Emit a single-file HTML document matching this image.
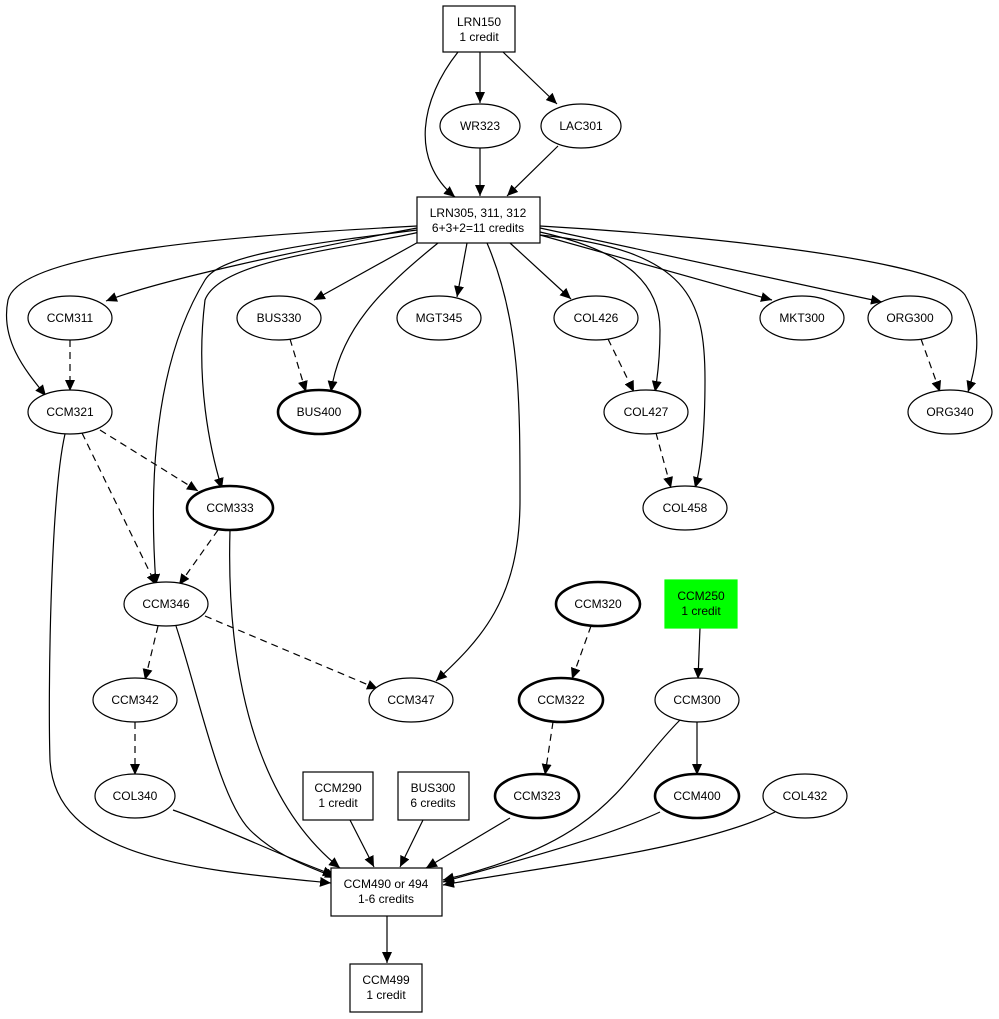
<!DOCTYPE html>
<html><head><meta charset="utf-8"><style>
html,body{margin:0;padding:0;background:#fff;}
svg{display:block;}
text{font-family:"Liberation Sans",Arial,sans-serif;font-size:12px;text-anchor:middle;fill:#000;}
</style></head><body>
<svg width="999" height="1019" viewBox="0 0 999 1019" xmlns="http://www.w3.org/2000/svg">
<defs>
<marker id="a" markerUnits="userSpaceOnUse" markerWidth="12" markerHeight="10" refX="11" refY="5" orient="auto">
<path d="M0,0 L11,5 L0,10 Z" fill="#000"/>
</marker>
</defs>
<g fill="none" stroke="#000" stroke-width="1.2" marker-end="url(#a)">
<path d="M480,52 L480,103"/>
<path d="M503,52 L557,104"/>
<path d="M458,52 C420,100 410,160 455,197"/>
<path d="M480,148 L480,196"/>
<path d="M558,146 L507,196"/>
<path d="M417,228 C300,250 160,280 106,301"/>
<path d="M417,226 C250,235 20,250 8,300 C0,340 25,370 46,396"/>
<path d="M417,230 C300,245 220,255 205,280 C150,370 150,500 156,585"/>
<path d="M420,232 C340,250 220,260 205,300 C195,380 210,450 222,489"/>
<path d="M422,240 L314,300"/>
<path d="M438,243 C380,290 340,330 331,392"/>
<path d="M467,243 L457,297"/>
<path d="M510,243 L571,299"/>
<path d="M540,232 C620,250 660,280 660,330 C660,360 657,380 655,392"/>
<path d="M540,235 C690,250 705,300 705,380 C705,440 700,470 695,488"/>
<path d="M540,235 L772,300"/>
<path d="M540,228 L882,302"/>
<path d="M540,226 C700,235 940,260 965,295 C985,330 975,370 968,392"/>
<path d="M487,243 C520,320 520,400 520,500 C520,600 480,640 436,681"/>
<path d="M65,434 C50,500 48,700 50,760 C55,860 200,870 331,883"/>
<path d="M230,530 C228,600 230,780 340,868"/>
<path d="M176,626 C200,700 220,800 250,830 C280,860 320,870 336,878"/>
<path d="M173,810 C230,830 290,860 334,875"/>
<path d="M350,820 L374,867"/>
<path d="M423,820 L400,867"/>
<path d="M510,818 L426,868"/>
<path d="M700,628 L698,679"/>
<path d="M697,722 L697,775"/>
<path d="M680,720 C620,780 610,840 443,880"/>
<path d="M660,812 C600,840 500,865 443,882"/>
<path d="M775,812 C700,850 520,870 443,885"/>
<path d="M387,916 L387,963"/>
</g>
<g fill="none" stroke="#000" stroke-width="1.2" stroke-dasharray="7,5" marker-end="url(#a)">
<path d="M70,340 L70,391"/>
<path d="M290,339 L306,392"/>
<path d="M608,339 L634,392"/>
<path d="M921,339 L940,392"/>
<path d="M656,433 L671,488"/>
<path d="M100,430 L198,491"/>
<path d="M82,433 L156,585"/>
<path d="M218,530 L179,585"/>
<path d="M158,626 L145,680"/>
<path d="M205,616 L378,689"/>
<path d="M135,722 L135,775"/>
<path d="M591,626 L572,679"/>
<path d="M553,722 L545,775"/>
</g>
<g stroke="#000" stroke-width="1.2" fill="#fff">
<rect x="443" y="6" width="72" height="46"/>
<rect x="417" y="197" width="123" height="46"/>
<rect x="665" y="580" width="72" height="48" fill="#00ff00" stroke="#00ff00"/>
<rect x="303" y="772" width="70" height="48"/>
<rect x="398" y="772" width="71" height="48"/>
<rect x="331" y="868" width="111" height="48"/>
<rect x="350" y="964" width="72" height="48"/>
<ellipse cx="480" cy="126" rx="40" ry="22"/>
<ellipse cx="581" cy="126" rx="40" ry="22"/>
<ellipse cx="70" cy="318" rx="42" ry="22"/>
<ellipse cx="279" cy="318" rx="42" ry="22"/>
<ellipse cx="439" cy="318" rx="42" ry="22"/>
<ellipse cx="596" cy="318" rx="42" ry="22"/>
<ellipse cx="802" cy="318" rx="42" ry="22"/>
<ellipse cx="910" cy="318" rx="42" ry="22"/>
<ellipse cx="70" cy="412" rx="42" ry="22"/>
<ellipse cx="646" cy="412" rx="42" ry="22"/>
<ellipse cx="950" cy="412" rx="42" ry="22"/>
<ellipse cx="685" cy="508" rx="42" ry="22"/>
<ellipse cx="166" cy="604" rx="42" ry="22"/>
<ellipse cx="135" cy="700" rx="42" ry="22"/>
<ellipse cx="411" cy="700" rx="42" ry="22"/>
<ellipse cx="697" cy="700" rx="42" ry="22"/>
<ellipse cx="135" cy="796" rx="40" ry="22"/>
<ellipse cx="805" cy="796" rx="42" ry="22"/>
</g>
<g stroke="#000" stroke-width="2.6" fill="#fff">
<ellipse cx="319" cy="412" rx="41" ry="22"/>
<ellipse cx="230" cy="508" rx="43" ry="22"/>
<ellipse cx="598" cy="604" rx="42" ry="22"/>
<ellipse cx="561" cy="700" rx="42" ry="22"/>
<ellipse cx="537" cy="796" rx="42" ry="22"/>
<ellipse cx="697" cy="796" rx="42" ry="22"/>
</g>
<text x="479" y="26">LRN150</text><text x="479" y="41">1 credit</text>
<text x="480" y="130">WR323</text>
<text x="581" y="130">LAC301</text>
<text x="478" y="217">LRN305, 311, 312</text><text x="478" y="232">6+3+2=11 credits</text>
<text x="70" y="322">CCM311</text>
<text x="279" y="322">BUS330</text>
<text x="439" y="322">MGT345</text>
<text x="596" y="322">COL426</text>
<text x="802" y="322">MKT300</text>
<text x="910" y="322">ORG300</text>
<text x="70" y="416">CCM321</text>
<text x="319" y="416">BUS400</text>
<text x="646" y="416">COL427</text>
<text x="950" y="416">ORG340</text>
<text x="230" y="512">CCM333</text>
<text x="685" y="512">COL458</text>
<text x="166" y="608">CCM346</text>
<text x="598" y="608">CCM320</text>
<text x="701" y="600">CCM250</text><text x="701" y="615">1 credit</text>
<text x="135" y="704">CCM342</text>
<text x="411" y="704">CCM347</text>
<text x="561" y="704">CCM322</text>
<text x="697" y="704">CCM300</text>
<text x="135" y="800">COL340</text>
<text x="338" y="792">CCM290</text><text x="338" y="807">1 credit</text>
<text x="433" y="792">BUS300</text><text x="433" y="807">6 credits</text>
<text x="537" y="800">CCM323</text>
<text x="697" y="800">CCM400</text>
<text x="805" y="800">COL432</text>
<text x="386" y="888">CCM490 or 494</text><text x="386" y="903">1-6 credits</text>
<text x="386" y="984">CCM499</text><text x="386" y="999">1 credit</text>
</svg>
</body></html>
